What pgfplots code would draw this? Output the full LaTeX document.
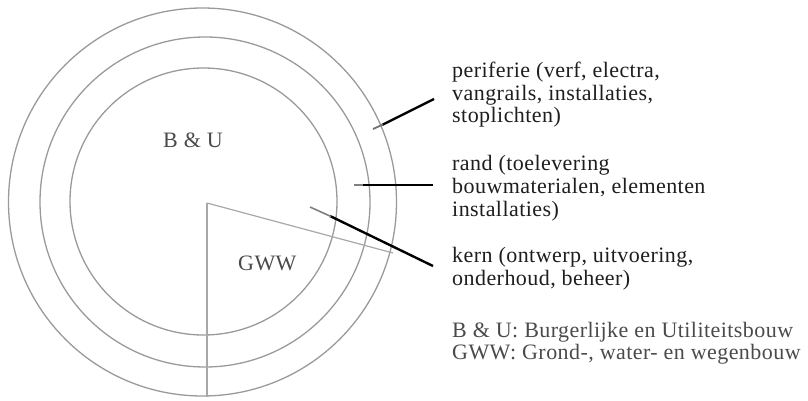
\documentclass[border=0pt]{standalone}
\usepackage{fontspec}
\setmainfont{Liberation Serif}[LetterSpace=2]
\usepackage{pgfplots}
\pgfplotsset{compat=1.18}
\definecolor{ringgray}{HTML}{9A9A9A}
\definecolor{wedgegray}{HTML}{A8A8A8}
\definecolor{txtdark}{HTML}{1E1E1E}
\definecolor{txtgray}{HTML}{4A4A4A}
\begin{document}
\begin{tikzpicture}
\useasboundingbox (0,0) rectangle (808pt,400pt);
\begin{axis}[at={(0,0)}, anchor=south west, width=808pt, height=400pt,
  scale only axis, hide axis, clip=false,
  xmin=0, xmax=808, ymin=0, ymax=400]
% rings
\draw[ringgray, line width=1.3pt] (axis cs:202.5,198) circle[radius=194pt];
\draw[ringgray, line width=1.3pt] (axis cs:205,198) circle[radius=165pt];
\draw[ringgray, line width=1.3pt] (axis cs:203.5,198.5) circle[radius=133.5pt];
% wedge (GWW sector)
\addplot[wedgegray, line width=1.2pt, no marks] coordinates {(207,197) (207,3)};
\addplot[wedgegray, line width=1.2pt, no marks] coordinates {(207,197) (393,147)};
% pointer lines
\addplot[black, line width=2.4pt, no marks] coordinates {(434,301) (382,275)};
\addplot[black!55, line width=1.8pt, no marks] coordinates {(383,275.5) (373,271)};
\addplot[black, line width=2.4pt, no marks] coordinates {(433,215) (362,215)};
\addplot[black!50, line width=1.6pt, no marks] coordinates {(363,215) (354,215)};
\addplot[black, line width=2.4pt, no marks] coordinates {(433,134) (330,184)};
\addplot[black!50, line width=1.6pt, no marks] coordinates {(331,183.5) (310,193)};
% labels in the diagram
\node[anchor=base west, txtgray, font=\fontsize{22}{23}\selectfont, inner sep=0pt] at (axis cs:163,253) {B \& U};
\node[anchor=base west, txtgray, font=\fontsize{22}{23}\selectfont, inner sep=0pt] at (axis cs:238,130) {GWW};
% annotations
\begin{scope}[every node/.style={anchor=base west, inner sep=0pt, txtdark, font=\fontsize{22}{23}\selectfont}]
\node at (axis cs:452,323) {periferie (verf, electra,};
\node at (axis cs:452,300) {vangrails, installaties,};
\node at (axis cs:452,278) {stoplichten)};
\node at (axis cs:452,230) {rand (toelevering};
\node at (axis cs:452,207) {bouwmaterialen, elementen};
\node at (axis cs:452,184) {installaties)};
\node at (axis cs:452,138) {kern (ontwerp, uitvoering,};
\node at (axis cs:452,115) {onderhoud, beheer)};
\end{scope}
\begin{scope}[every node/.style={anchor=base west, inner sep=0pt, txtgray, font=\fontsize{22}{23}\selectfont}]
\node at (axis cs:452,63) {B \& U: Burgerlijke en Utiliteitsbouw};
\node at (axis cs:452,41) {GWW: Grond-, water- en wegenbouw};
\end{scope}
\end{axis}
\end{tikzpicture}
\end{document}
